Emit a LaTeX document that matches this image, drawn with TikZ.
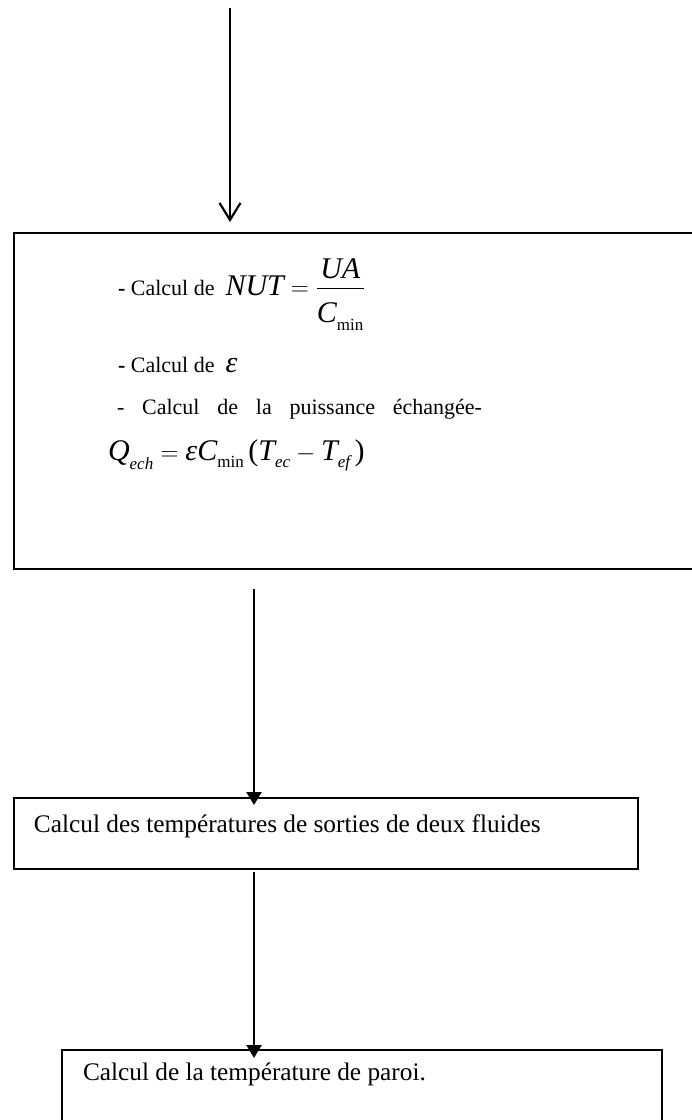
\documentclass[tikz,border=0pt]{standalone}
\usepackage{amsmath}
\usepackage{fontspec}
\setmainfont{Liberation Serif}
\usetikzlibrary{arrows.meta,positioning}
\DeclareMathSizes{30}{30}{17}{12}
\newcommand\bodyfont{\fontsize{25.3}{30}\selectfont}
\newcommand\smallbody{\fontsize{22}{26}\selectfont}
\newcommand\eqfont{\fontsize{30}{36}\selectfont}
\newcommand\lsub[1]{_{\lower4pt\hbox{$\scriptstyle#1$}}}

\begin{document}
\begin{tikzpicture}[x=1pt,y=-1pt,
every node/.style={inner sep=0pt,outer sep=0pt,anchor=base west,font=\bodyfont},
box/.style={draw,line width=2.4pt,anchor=north west},
barb/.style={line width=2.2pt,-{Straight Barb[length=17pt,width=21pt]}},
tri/.style={line width=2.2pt,-{Triangle[length=13pt,width=15pt]}}]

\useasboundingbox (0,0) rectangle (692,1120);

\node[box,minimum width=700,minimum height=336] (B1) at (14,233) {};
\node[box,minimum width=624,minimum height=71] (B2) at (14,798) {};
\node[box,minimum width=600,minimum height=90] (B3) at (62,1050) {};

\node[font=\smallbody] (L1) at (118,295) {\textbf{-} Calcul de\hspace{11pt}{\eqfont$\textit{NUT} = \dfrac{\textit{UA}}{\rule{0pt}{30pt}\textit{C}\lsub{\textup{min}}}$}};
\node[font=\smallbody] (L2) at (118,372) {\textbf{-} Calcul de\hspace{11pt}{\eqfont\textit{ε}}};
\node[font=\smallbody] (L3) at (117,414) {\makebox[365pt][s]{- Calcul de la puissance échangée-}};
\node (L4) at (108,460) {\eqfont$\textit{Q}\lsub{\textit{ech}} = \textit{εC}\lsub{\textup{min}}\,\textup{(}\textit{T}\lsub{\textit{ec}} -\textit{T}\lsub{\textit{ef}}\,\textup{)}$};
\node (T2) at (34,832) {Calcul des températures de sorties de deux fluides};
\node (T3) at (83,1080) {Calcul de la température de paroi.};

\coordinate (S) at (230,8);
\coordinate (X) at (254,0);
\draw[barb,shorten >=11pt] (S) -- (S |- B1.north);
\draw[tri,shorten <=20pt,shorten >=-7pt] (B1.south -| X) -- (B2.north -| X);
\draw[tri,shorten <=3pt,shorten >=-8pt] (B2.south -| X) -- (B3.north -| X);
\end{tikzpicture}
\end{document}
